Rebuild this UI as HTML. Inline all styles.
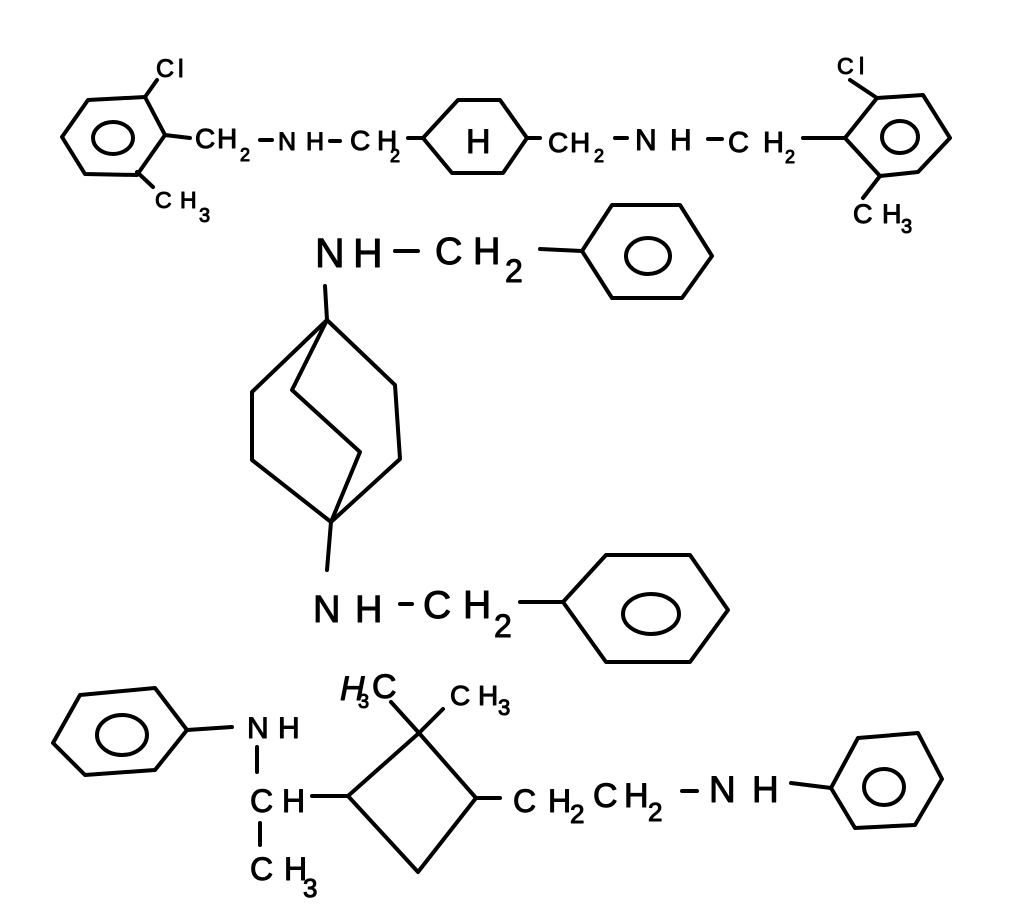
<!DOCTYPE html>
<html><head><meta charset="utf-8"><style>
html,body{margin:0;padding:0;background:#fff;width:1016px;height:924px;overflow:hidden}
svg{display:block}
text{font-family:"Liberation Sans",sans-serif;fill:#000;stroke:#000;stroke-width:1}
</style></head><body>
<svg width="1016" height="924" viewBox="0 0 1016 924" fill="none" stroke="#000" stroke-width="4" stroke-linejoin="round" stroke-linecap="round">
<!-- top molecule -->
<path d="M62 137L88 100L145 97L165 135L137 175L85 174Z"/>
<ellipse cx="113" cy="138" rx="20" ry="16"/>
<path d="M145 97L157 80M165 135L190 138M137 172L153 187M260 140L272 140M330 141L340 141M408 138L423 138"/>
<path d="M423 138L458 100L500 100L527 138L503 173L452 173Z"/>
<path d="M527 138L540 138M615 138L627 138M708 139L722 139M803 138L845 138"/>
<path d="M845 138L877 98L923 95L950 138L918 172L880 176Z"/>
<ellipse cx="900" cy="137" rx="18" ry="16"/>
<path d="M877 98L850 80M880 176L863 198"/>
<!-- middle top -->
<path d="M582 251L612 205L680 205L712 256L682 298L612 298Z"/>
<ellipse cx="648" cy="256" rx="22" ry="18"/>
<path d="M540 249L582 251M395 251L418 251"/>
<!-- cage -->
<path d="M325 286L327 320M327 320L252 392L252 460L331 522L400 459L395 385L327 320M327 320L292 390L360 452L331 522M331 522L327 570"/>
<!-- middle bottom -->
<path d="M563 602L606 555L690 555L728 610L690 662L606 662Z"/>
<ellipse cx="651" cy="614" rx="28" ry="20"/>
<path d="M520 602L563 602M400 604L412 604"/>
<!-- bottom -->
<path d="M53 743L80 695L155 688L187 730L155 770L85 775Z"/>
<ellipse cx="122" cy="735" rx="25" ry="20"/>
<path d="M187 730L232 727M257 747L257 772M260 823L260 845M312 796L348 796"/>
<path d="M348 796L419 733L476 798L418 872Z"/>
<path d="M419 733L391 702M419 733L443 709M476 798L500 798"/>
<path d="M831 788L858 738L918 733L942 779L915 825L855 828Z"/>
<ellipse cx="884" cy="787" rx="20" ry="18"/>
<path d="M791 783L831 788M682 791L697 791"/>
<!-- labels -->
<g stroke-linecap="round">
<text x="156 178" y="77" font-size="25">Cl</text>
<text x="195 217" y="148" font-size="28">CH</text>
<text x="240" y="161" font-size="18">2</text>
<text x="278 306" y="150" font-size="25">NH</text>
<text x="350 377" y="150" font-size="28">CH</text>
<text x="390" y="162" font-size="18">2</text>
<text x="155 180" y="208" font-size="23">CH</text>
<text x="199" y="222" font-size="20">3</text>
<text x="466" y="153" font-size="34">H</text>
<text x="548 570" y="152" font-size="28">CH</text>
<text x="594" y="162" font-size="18">2</text>
<text x="635 670" y="150" font-size="30">NH</text>
<text x="728 763" y="152" font-size="29">CH</text>
<text x="785" y="163" font-size="18">2</text>
<text x="837 859" y="74" font-size="23">Cl</text>
<text x="853 882" y="223" font-size="27">CH</text>
<text x="901" y="233" font-size="20">3</text>
<text x="315 353" y="267" font-size="41">NH</text>
<text x="435 473" y="264" font-size="38">CH</text>
<text x="505" y="282" font-size="32">2</text>
<text x="313 355" y="622" font-size="38">NH</text>
<text x="423 463" y="618" font-size="39">CH</text>
<text x="494" y="637" font-size="32">2</text>
<text x="247 278" y="738" font-size="30">NH</text>
<text x="250 282" y="812" font-size="32">CH</text>
<text x="250 284" y="880" font-size="32">CH</text>
<text x="303" y="897" font-size="26">3</text>
<text x="340" y="700" font-size="34" font-style="italic">H</text>
<text x="358" y="708" font-size="20">3</text>
<text x="372" y="698" font-size="34">C</text>
<text x="450 478" y="705" font-size="28">CH</text>
<text x="498" y="715" font-size="22">3</text>
<text x="513 548" y="812" font-size="32">CH</text>
<text x="570" y="823" font-size="26">2</text>
<text x="593 624" y="807" font-size="34">CH</text>
<text x="648" y="821" font-size="26">2</text>
<text x="709 752" y="802" font-size="37">NH</text>
</g>
</svg>
</body></html>
